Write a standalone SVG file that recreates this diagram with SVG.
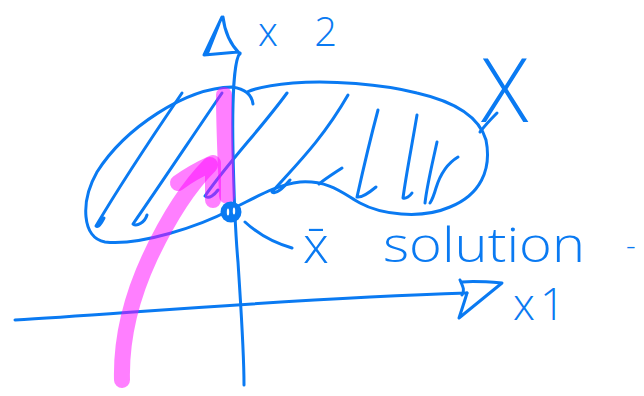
<svg xmlns="http://www.w3.org/2000/svg" width="644" height="396" viewBox="0 0 644 396">
<style>
.ink{fill:none;stroke:#0a7af2;stroke-width:3;stroke-linecap:round;stroke-linejoin:round}
.hl{fill:none;stroke:#ff00ff;stroke-opacity:0.5;stroke-width:16;stroke-linecap:round;stroke-linejoin:round}
.lbl{fill:#0a7af2;font-family:"Open Sans","DejaVu Sans",sans-serif;font-weight:300}
</style>
<rect width="644" height="396" fill="#ffffff"/>
<g id="connectors">
  <!-- x2 axis -->
  <path class="ink" d="M240,53 C234,60 232,100 233,150 C234,200 236,240 238,262 C241,310 244,350 244,385"/>
  <path class="ink" d="M222,17 L204,55 L238,52 M223,17 C225,35 232,46 240,54 M219,24 L208,52"/>
  <!-- x1 axis -->
  <path class="ink" d="M15,320 C120,314 280,299 467,293"/>
  <path class="ink" d="M462,282 C472,281 490,282 502,283 L459,318 C462,309 465,300 467,293 M460,280 C463,287 465,290 462,295"/>
  <!-- leader to x-bar -->
  <path class="ink" d="M245,222 C258,234 274,243 292,248"/>
  <!-- leader to X -->
  <path class="ink" d="M480,132 C486,124 492,118 497,113"/>
</g>
<g id="set-X">
  <path class="ink" d="M253,104 C252,95 245,89 232,87 C185,88 125,128 97,172 C80,202 82,238 105,242 C140,246 200,226 230,210 C255,198 275,185 300,182 C330,180 345,195 360,203 C380,214 420,220 450,207 C480,195 492,170 486,140 C479,116 452,101 417,93 C382,84 330,80 293,83 C270,85 256,88 247,92"/>
  <path class="ink" d="M182,93 C150,140 120,185 96,226 C98,228 101,224 104,218"/>
  <path class="ink" d="M222,93 C190,140 160,185 133,224 C137,227 145,222 147,215"/>
  <path class="ink" d="M287,93 C260,130 230,160 205,196 C209,200 215,194 218,190"/>
  <path class="ink" d="M348,95 C322,140 296,165 272,192 C276,195 283,188 290,180"/>
  <path class="ink" d="M342,168 C333,174 325,179 319,184"/>
  <path class="ink" d="M378,110 C370,140 363,170 357,197 C362,198 370,192 376,187"/>
  <path class="ink" d="M417,115 C412,145 406,175 403,198 C406,199 410,196 412,193"/>
  <path class="ink" d="M437,142 C432,165 427,185 425,203"/>
  <path class="ink" d="M458,157 C448,163 440,175 436,188 C434,195 432,200 430,203"/>
</g>
<g id="path-arrow">
  <path class="hl" d="M122,380 C121,340 130,300 150,257 C165,225 185,190 210,165"/>
  <path class="hl" d="M178,183 C190,174 202,168 213,163 L213,200"/>
  <path class="hl" d="M224,95 C224,130 226,165 227,196"/>
</g>
<g id="solution-point">
  <circle cx="231" cy="212" r="10.5" fill="#0a7af2"/>
  <ellipse cx="228" cy="212" rx="1.2" ry="3.5" fill="#ffffff"/>
  <ellipse cx="234" cy="211" rx="1.2" ry="3.5" fill="#ffffff"/>
</g>
<g id="labels">
  <text class="lbl" x="258" y="46" font-size="40" textLength="79" lengthAdjust="spacing">x2</text>
  <text class="lbl" x="303" y="263" font-size="52">x̄</text>
  <text class="lbl" x="383" y="262" font-size="48" textLength="202" lengthAdjust="spacingAndGlyphs">solution</text>
  <text class="lbl" x="626" y="256" font-size="30">-</text>
  <text class="lbl" x="513" y="320" font-size="44" textLength="52" lengthAdjust="spacing">x1</text>
  <text class="lbl" x="481" y="122" font-size="88">X</text>
</g>
</svg>
